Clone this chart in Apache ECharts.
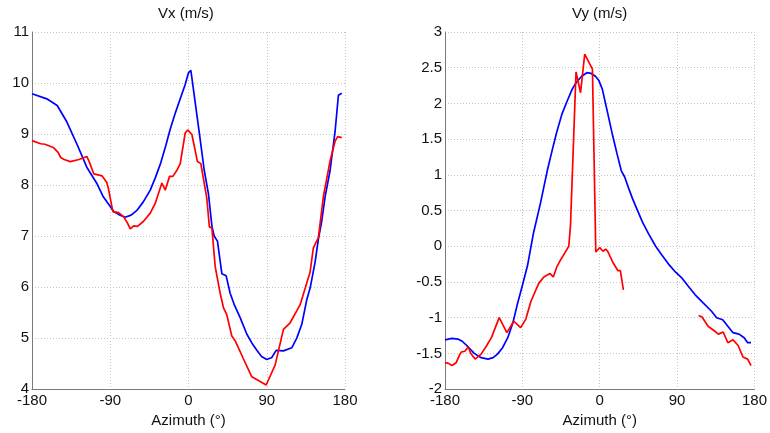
<!DOCTYPE html>
<html>
<head>
<meta charset="utf-8">
<script src="https://cdn.jsdelivr.net/npm/echarts@6/dist/echarts.min.js"></script>
<style>
html,body{margin:0;padding:0;background:#fff;}
#c{width:770px;height:433px;}
</style>
</head>
<body>
<div id="c"></div>
<script>
// ---- Data ----
var xTicks = [-180, -90, 0, 90, 180];
var vxTitle = 'Vx (m/s)';
var vyTitle = 'Vy (m/s)';
var xName = 'Azimuth (°)';

var vxBlueAz = [-180,-163,-151,-140,-128,-117,-105,-98,-90,-86,-80,-73,-66,-59,-52,-44,-38,-32,-26,-21,-15,-9.5,-4,0,2.7,8,13.4,18,23,26.9,29.5,33.3,38.4,43.3,47.9,53,59.4,67,73,78.6,84,90,95.8,100.8,109.2,118.8,124.5,130.3,136,139.9,145.6,149.4,153.3,157.1,162.8,168.6,172.4,176.3];
var vxBlueVal = [9.79,9.69,9.56,9.24,8.79,8.35,8.02,7.77,7.58,7.48,7.42,7.37,7.41,7.51,7.67,7.9,8.15,8.43,8.78,9.1,9.42,9.69,9.96,10.2,10.25,9.58,8.9,8.3,7.82,7.2,7.0,6.9,6.26,6.22,5.88,5.64,5.4,5.08,4.9,4.76,4.64,4.58,4.62,4.76,4.75,4.81,5.0,5.27,5.75,5.98,6.49,6.94,7.3,7.77,8.28,9.05,9.76,9.8];

var vxRedAz = [-180,-170,-165,-155,-150,-147,-143,-136,-126,-117,-114,-109,-104,-99.5,-94,-92,-87,-80.4,-74.7,-70,-67,-63,-58.6,-51.7,-44,-38.3,-30.6,-26.8,-21.8,-18,-13,-9.5,-3.8,-1,3.9,10.3,14.2,21,24,26.9,30.7,36.4,40.3,44,49.8,53.6,63,72.8,82.4,89.3,99.6,109.2,116.9,128.3,139.8,143.6,149.4,155.1,162.8,168.6,171.6,176.3];
var vxRedVal = [8.87,8.81,8.8,8.73,8.64,8.54,8.5,8.46,8.5,8.56,8.45,8.22,8.2,8.18,8.05,7.92,7.48,7.46,7.38,7.25,7.14,7.2,7.19,7.29,7.45,7.64,8.04,7.9,8.17,8.17,8.3,8.42,9.02,9.08,8.99,8.46,8.42,7.75,7.18,7.16,6.4,5.88,5.59,5.46,5.04,4.95,4.6,4.24,4.15,4.08,4.47,5.17,5.3,5.65,6.29,6.77,6.97,7.77,8.47,8.86,8.95,8.93];

var vyBlueAz = [-180,-172,-165,-160,-153,-146,-138,-130,-124,-119,-113,-107,-101,-96,-90,-84,-77,-69,-61,-55,-50,-44,-38,-32,-27,-21,-15,-10,-5,-1,3,9.5,15,20,25,29,34,38,44,50,57,65,72,80,88,96,103,111,120,130,136,143,149,155,162,168,172,176];
var vyBlueVal = [-1.31,-1.29,-1.3,-1.33,-1.41,-1.5,-1.56,-1.58,-1.56,-1.51,-1.42,-1.28,-1.07,-0.82,-0.55,-0.27,0.19,0.6,1.06,1.36,1.6,1.85,2.03,2.2,2.3,2.38,2.43,2.42,2.38,2.32,2.2,1.85,1.55,1.3,1.06,0.97,0.8,0.67,0.5,0.33,0.17,0.0,-0.12,-0.25,-0.36,-0.45,-0.56,-0.68,-0.79,-0.91,-1.0,-1.03,-1.12,-1.21,-1.23,-1.28,-1.35,-1.35];

var vyRedAz1 = [-180,-176,-172,-167,-163,-161,-157,-153,-150,-145,-138,-132,-126,-117,-108,-100,-92,-86,-80,-71,-65,-58,-54,-50,-46,-42,-36,-34,-27.6,-22.3,-17.5,-8.5,-4.6,0,3.8,6.9,9.2,15,21,24,27.5];
var vyRedVal1 = [-1.63,-1.64,-1.67,-1.63,-1.52,-1.48,-1.47,-1.41,-1.5,-1.58,-1.51,-1.4,-1.28,-1.0,-1.21,-1.05,-1.14,-1.02,-0.77,-0.52,-0.43,-0.38,-0.43,-0.29,-0.2,-0.12,0.0,0.3,2.44,2.15,2.69,2.48,-0.08,-0.02,-0.07,-0.04,-0.07,-0.22,-0.34,-0.34,-0.61];
var vyRedAz2 = [115,119,126,134,138,143.6,149,155,161,166.6,172,176];
var vyRedVal2 = [-0.97,-0.99,-1.12,-1.19,-1.23,-1.2,-1.35,-1.31,-1.39,-1.55,-1.58,-1.67];

// ---- Build ----
function pairs(a, v) { return a.map(function (x, i) { return [x, v[i]]; }); }
var FONT = 'Liberation Sans, Arial, sans-serif';
var gridLine = { show: true, lineStyle: { color: '#c4c4c4', type: [1, 2], width: 1 } };
var axisLine = { show: true, onZero: false, lineStyle: { color: '#7a7a7a', width: 1 } };
var lbl = { color: '#111', fontSize: 15, fontFamily: FONT };

function xAx(gi) {
  return {
    type: 'value', gridIndex: gi, min: -180, max: 180, interval: 90,
    name: xName, nameLocation: 'middle', nameGap: 17,
    nameTextStyle: { color: '#111', fontSize: 15, fontFamily: FONT },
    axisLine: axisLine, axisTick: { show: false }, splitLine: gridLine,
    axisLabel: Object.assign({ margin: 4 }, lbl)
  };
}
function yAx(gi, mn, mx, iv) {
  return {
    type: 'value', gridIndex: gi, min: mn, max: mx, interval: iv,
    axisLine: axisLine, axisTick: { show: false }, splitLine: gridLine,
    axisLabel: Object.assign({ margin: 3 }, lbl)
  };
}
function line(xi, data, color) {
  return {
    type: 'line', xAxisIndex: xi, yAxisIndex: xi, data: data,
    showSymbol: false, symbol: 'none', smooth: false, animation: false,
    lineStyle: { color: color, width: 1.7 }, z: color === '#ff0000' ? 3 : 2
  };
}

var chart = echarts.init(document.getElementById('c'), null, { renderer: 'canvas' });
chart.setOption({
  animation: false,
  backgroundColor: '#fff',
  grid: [
    { left: 32, top: 32, width: 313, height: 364.7 },
    { left: 445, top: 32, width: 313.3, height: 364.7 }
  ],
  graphic: [
    { type: 'text', left: 188 - 30, top: 6, style: { text: vxTitle, fill: '#111', fontSize: 15, fontFamily: FONT } },
    { type: 'text', left: 602 - 30, top: 6, style: { text: vyTitle, fill: '#111', fontSize: 15, fontFamily: FONT } }
  ],
  xAxis: [xAx(0), xAx(1)],
  yAxis: [yAx(0, 4, 11, 1), yAx(1, -2, 3, 0.5)],
  series: [
    line(0, pairs(vxBlueAz, vxBlueVal), '#0000ff'),
    line(0, pairs(vxRedAz, vxRedVal), '#ff0000'),
    line(1, pairs(vyBlueAz, vyBlueVal), '#0000ff'),
    line(1, pairs(vyRedAz1, vyRedVal1), '#ff0000'),
    line(1, pairs(vyRedAz2, vyRedVal2), '#ff0000')
  ]
});
</script>
</body>
</html>
